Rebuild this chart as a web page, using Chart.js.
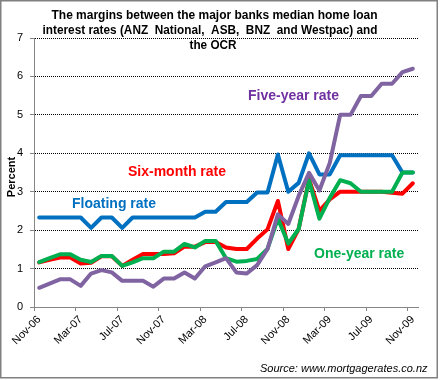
<!DOCTYPE html>
<html>
<head>
<meta charset="utf-8">
<script src="https://cdn.jsdelivr.net/npm/chart.js@4/dist/chart.umd.min.js"></script>
<style>
  html, body { margin: 0; padding: 0; background: #fff; }
  #c { display: block; }
</style>
</head>
<body>
<canvas id="c" width="440" height="380"></canvas>
<script>
// ---- data ----
const months = ["Nov-06","Dec-06","Jan-07","Feb-07","Mar-07","Apr-07","May-07","Jun-07","Jul-07","Aug-07","Sep-07","Oct-07",
  "Nov-07","Dec-07","Jan-08","Feb-08","Mar-08","Apr-08","May-08","Jun-08","Jul-08","Aug-08","Sep-08","Oct-08",
  "Nov-08","Dec-08","Jan-09","Feb-09","Mar-09","Apr-09","May-09","Jun-09","Jul-09","Aug-09","Sep-09","Oct-09","Nov-09"];
const floatingRate = [2.33,2.33,2.33,2.33,2.33,2.06,2.33,2.33,2.06,2.33,2.33,2.33,
  2.33,2.33,2.33,2.33,2.48,2.48,2.73,2.73,2.73,2.98,2.98,3.97,
  3.0,3.23,4.0,3.45,3.45,3.95,3.95,3.95,3.95,3.95,3.95,3.5,3.5];
const sixMonthRate = [1.16,1.23,1.29,1.29,1.13,1.15,1.32,1.32,1.07,1.23,1.38,1.38,
  1.38,1.40,1.57,1.57,1.69,1.69,1.55,1.51,1.51,1.78,2.02,2.76,
  1.51,2.03,3.33,2.5,2.8,3.0,3.0,3.0,3.0,3.0,2.97,2.95,3.22];
const oneYearRate = [1.17,1.27,1.37,1.37,1.23,1.17,1.33,1.33,1.07,1.16,1.27,1.27,
  1.44,1.44,1.64,1.55,1.72,1.72,1.27,1.18,1.2,1.25,1.51,2.3,
  1.65,2.03,3.3,2.3,2.84,3.3,3.22,3.0,3.0,3.0,3.0,3.5,3.5];
const fiveYearRate = [0.5,0.61,0.72,0.72,0.55,0.87,0.96,0.9,0.68,0.68,0.68,0.53,
  0.74,0.74,0.9,0.74,1.06,1.16,1.27,0.9,0.87,1.09,1.51,2.41,
  2.16,2.89,3.49,3.03,3.75,5.0,5.0,5.49,5.49,5.81,5.81,6.11,6.2];
const yTicks = [0,1,2,3,4,5,6,7];
const titleLines = ["The margins between the major banks median home loan",
  "interest rates (ANZ  National,  ASB,  BNZ  and Westpac) and",
  "the OCR"];
const seriesNames = ["Floating rate","Six-month rate","One-year rate","Five-year rate"];
const sourceText = "Source: www.mortgagerates.co.nz";

const FONT = "'Liberation Sans', Arial, sans-serif";
const C_BLUE = "#0070C0", C_RED = "#FF0000", C_GREEN = "#00B050", C_PURPLE = "#8064A2";

const decor = {
  id: 'decor',
  beforeDraw(chart) {
    const ctx = chart.ctx;
    ctx.save();
    ctx.fillStyle = '#fff';
    ctx.fillRect(0, 0, chart.width, chart.height);
    ctx.strokeStyle = '#808080';
    ctx.lineWidth = 1.5;
    ctx.strokeRect(0.75, 0.75, 436.5, 377);
    ctx.restore();
  },
  afterDraw(chart) {
    const ctx = chart.ctx;
    ctx.save();
    // title
    ctx.fillStyle = '#000';
    ctx.font = "bold 12px " + FONT;
    ctx.textAlign = 'center';
    ctx.textBaseline = 'middle';
    ctx.fillText(titleLines[0], 214.5, 16, 326);
    ctx.fillText(titleLines[1], 210, 31, 335);
    ctx.fillText(titleLines[2], 213, 45.5, 47);
    // y title
    ctx.save();
    ctx.translate(12, 177);
    ctx.rotate(-Math.PI / 2);
    ctx.font = "bold 11px " + FONT;
    ctx.fillText("Percent", 0, 0);
    ctx.restore();
    // series labels
    ctx.font = "bold 14px " + FONT;
    ctx.textAlign = 'left';
    ctx.fillStyle = C_BLUE;  ctx.fillText(seriesNames[0], 72, 204.5, 87);
    ctx.fillStyle = C_RED;   ctx.fillText(seriesNames[1], 128, 172, 101);
    ctx.fillStyle = C_GREEN; ctx.fillText(seriesNames[2], 314, 254.5, 94);
    ctx.fillStyle = '#7030A0'; ctx.fillText(seriesNames[3], 248, 96, 96);
    // source
    ctx.fillStyle = '#000';
    ctx.font = "italic 11px " + FONT;
    ctx.textAlign = 'right';
    ctx.fillText(sourceText, 427.5, 369);
    ctx.restore();
  }
};

function ds(label, data, color, order) {
  return { label, data, borderColor: color, backgroundColor: color, borderWidth: 4,
    pointRadius: 0, pointHoverRadius: 0, tension: 0, fill: false,
    borderJoinStyle: 'round', borderCapStyle: 'round', order };
}

new Chart(document.getElementById('c'), {
  type: 'line',
  data: {
    labels: months,
    datasets: [
      ds(seriesNames[0], floatingRate, C_BLUE, 4),
      ds(seriesNames[1], sixMonthRate, C_RED, 3),
      ds(seriesNames[2], oneYearRate, C_GREEN, 2),
      ds(seriesNames[3], fiveYearRate, C_PURPLE, 1)
    ]
  },
  options: {
    responsive: false,
    animation: false,
    devicePixelRatio: 1,
    layout: { padding: { left: 0, top: 38, right: 22, bottom: 0 } },
    plugins: { legend: { display: false }, title: { display: false }, tooltip: { enabled: false } },
    scales: {
      x: {
        type: 'category',
        offset: true,
        afterFit(s) { s.height = 73; },
        grid: {
          offset: true,
          drawOnChartArea: false,
          drawTicks: true,
          tickLength: 4,
          tickColor: (c) => (c.index % 4 === 0 ? '#868686' : 'rgba(0,0,0,0)'),
          color: 'rgba(0,0,0,0)'
        },
        border: { display: true, color: '#868686', width: 1 },
        ticks: {
          autoSkip: false,
          minRotation: 45,
          maxRotation: 45,
          padding: 2,
          color: '#000',
          font: { family: FONT, size: 11 },
          callback(v, i) { return i % 4 === 0 ? months[i] : ''; }
        }
      },
      y: {
        min: 0,
        max: 7,
        afterFit(s) { s.width = 34; },
        afterBuildTicks(s) { s.ticks = yTicks.map(v => ({ value: v })); },
        grid: {
          color: (c) => (c.tick && c.tick.value === 0 ? 'rgba(0,0,0,0)' : '#000'),
          lineWidth: 1,
          tickLength: 4,
          tickColor: '#868686',
          tickBorderDash: []
        },
        border: { display: true, color: '#868686', width: 1, dash: [1, 1] },
        ticks: {
          padding: 7,
          color: '#000',
          font: { family: FONT, size: 11 }
        }
      }
    }
  },
  plugins: [decor]
});
</script>
</body>
</html>
